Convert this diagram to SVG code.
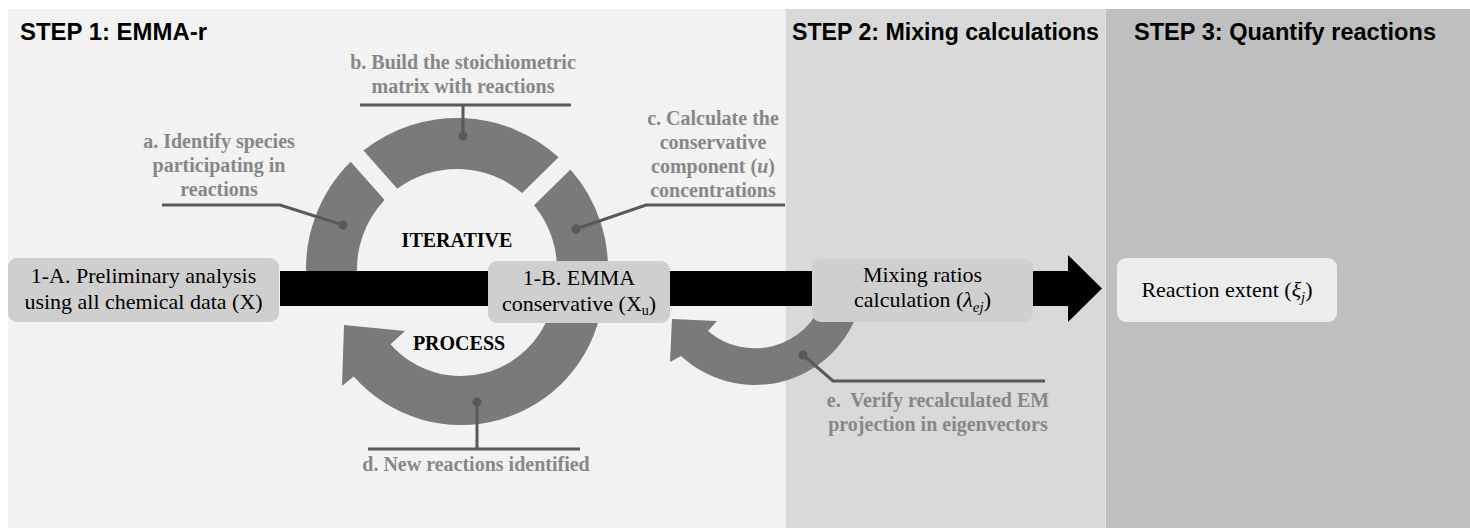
<svg xmlns="http://www.w3.org/2000/svg" width="1470" height="528" viewBox="0 0 1470 528">
  <style>
    .title { font-family: "Liberation Sans", Arial, sans-serif; font-weight: bold; font-size: 23px; fill: #000; }
    .lbl { font-family: "Liberation Serif", "Times New Roman", serif; font-weight: bold; font-size: 20px; fill: #878787; text-anchor: middle; }
    .big { font-family: "Liberation Serif", "Times New Roman", serif; font-weight: bold; font-size: 20px; fill: #000; text-anchor: middle; }
    .box { fill: #d0cfcf; }
    .boxlight { fill: #ececec; }
    .btxt { font-family: "Liberation Serif", "Times New Roman", serif; font-size: 22px; fill: #000; text-anchor: middle; }
    .ring { fill: #7a7a7a; }
    .lead { stroke: #595959; stroke-width: 3; fill: none; }
    .dot { fill: #595959; }
    .it { font-style: italic; }
  </style>

  <g id="panels">
    <rect x="0" y="0" width="1470" height="528" fill="#ffffff"/>
    <rect x="8" y="9" width="777" height="519" fill="#f2f2f2"/>
    <rect x="785" y="9" width="320" height="519" fill="#d9d9d9"/>
    <rect x="1105" y="9" width="365" height="519" fill="#bfbfbf"/>
    <line x1="785" y1="9" x2="785" y2="528" stroke="#f7f7f7" stroke-width="1"/>
    <line x1="1105.5" y1="9" x2="1105.5" y2="528" stroke="#e2e2e2" stroke-width="1"/>
  </g>

  <g id="titles">
    <text class="title" x="20" y="40" textLength="187" lengthAdjust="spacingAndGlyphs">STEP 1: EMMA-r</text>
    <text class="title" x="792" y="40" textLength="307" lengthAdjust="spacingAndGlyphs">STEP 2: Mixing calculations</text>
    <text class="title" x="1134" y="40" textLength="302" lengthAdjust="spacingAndGlyphs">STEP 3: Quantify reactions</text>
  </g>

  <g id="connectors">
    <!-- iterative ring segments -->
    <path id="seg-a" class="ring" d="M 306.58 282.16 A 151 151 0 0 1 350.65 161.81 L 384.64 199.98 A 100 100 0 0 0 357.38 277.72 Z"/>
    <path id="seg-b" class="ring" d="M 363.48 150.44 A 151 151 0 0 1 558.58 157.27 L 522.11 193.10 A 100 100 0 0 0 397.34 188.74 Z"/>
    <path id="seg-c" class="ring" d="M 570.49 169.39 A 151 151 0 0 1 607.42 282.16 L 556.62 277.72 A 100 100 0 0 0 534.02 205.22 Z"/>
    <!-- d: new reactions curved arrow -->
    <path id="arrow-d" class="ring" d="M 601.83 306.83 A 143 143 0 0 1 353.73 376.57 L 342 386 L 344 325 L 405 331 L 390.49 344.16 A 94 94 0 0 0 553.57 298.32 Z"/>
    <!-- e: verify curved arrow -->
    <path id="arrow-e" class="ring" d="M 857.43 313.28 A 109 109 0 0 1 681 356 L 670 362 L 672 319 L 717 321 L 708 331 A 72 72 0 0 0 822.66 300.63 Z"/>
    <!-- main black arrow -->
    <path id="main-arrow" d="M 280 271 L 1068 271 L 1068 255 L 1102 288.5 L 1068 322 L 1068 306 L 280 306 Z" fill="#000"/>
    <!-- leaders -->
    <polyline class="lead" points="162,205 280,205 343,225"/>
    <circle class="dot" cx="343" cy="225" r="4.5"/>
    <line class="lead" x1="360" y1="105" x2="571" y2="105"/>
    <line class="lead" x1="463" y1="105" x2="463" y2="136"/>
    <circle class="dot" cx="463" cy="136" r="4.5"/>
    <polyline class="lead" points="785,205 646,205 576,229"/>
    <circle class="dot" cx="576" cy="229" r="4.5"/>
    <line class="lead" x1="368" y1="449" x2="580" y2="449"/>
    <line class="lead" x1="477" y1="449" x2="477" y2="402"/>
    <circle class="dot" cx="477" cy="402" r="4.5"/>
    <polyline class="lead" points="1045,381 833,381 803,355"/>
    <circle class="dot" cx="803" cy="355" r="4.5"/>
  </g>

  <g id="node-1A">
    <rect class="box" x="8" y="258" width="271" height="64" rx="9"/>
    <text class="btxt" x="143.5" y="283">1-A. Preliminary analysis</text>
    <text class="btxt" x="143.5" y="309">using all chemical data (X)</text>
  </g>

  <g id="node-1B">
    <rect class="box" x="488" y="261" width="182" height="62" rx="9"/>
    <text class="btxt" x="579" y="285">1-B. EMMA</text>
    <text class="btxt" x="579" y="311">conservative (X<tspan dy="4" font-size="14">u</tspan><tspan dy="-4">)</tspan></text>
  </g>

  <g id="node-mixing">
    <rect class="box" x="812" y="259" width="221" height="63" rx="9"/>
    <text class="btxt" x="922.5" y="282">Mixing ratios</text>
    <text class="btxt" x="922.5" y="307">calculation (<tspan class="it">λ</tspan><tspan class="it" dy="5" font-size="15">ej</tspan><tspan dy="-5">)</tspan></text>
  </g>

  <g id="node-reaction">
    <rect class="boxlight" x="1117" y="258" width="220" height="64" rx="9"/>
    <text class="btxt" x="1227" y="297" font-size="21">Reaction extent (<tspan class="it">ξ</tspan><tspan class="it" dy="5" font-size="15">j</tspan><tspan dy="-5">)</tspan></text>
  </g>

  <g id="labels">
    <text class="big" x="457" y="247">ITERATIVE</text>
    <text class="big" x="459" y="350">PROCESS</text>
    <g id="label-a">
      <text class="lbl" x="219" y="148">a. Identify species</text>
      <text class="lbl" x="219" y="172">participating in</text>
      <text class="lbl" x="219" y="196">reactions</text>
    </g>
    <g id="label-b">
      <text class="lbl" x="463" y="69">b. Build the stoichiometric</text>
      <text class="lbl" x="463" y="93">matrix with reactions</text>
    </g>
    <g id="label-c">
      <text class="lbl" x="713" y="125">c. Calculate the</text>
      <text class="lbl" x="713" y="149">conservative</text>
      <text class="lbl" x="713" y="173">component (<tspan class="it">u</tspan>)</text>
      <text class="lbl" x="713" y="197">concentrations</text>
    </g>
    <g id="label-d">
      <text class="lbl" x="476" y="471">d. New reactions identified</text>
    </g>
    <g id="label-e">
      <text class="lbl" x="938" y="407">e.&#160; Verify recalculated EM</text>
      <text class="lbl" x="938" y="431">projection in eigenvectors</text>
    </g>
  </g>
</svg>
